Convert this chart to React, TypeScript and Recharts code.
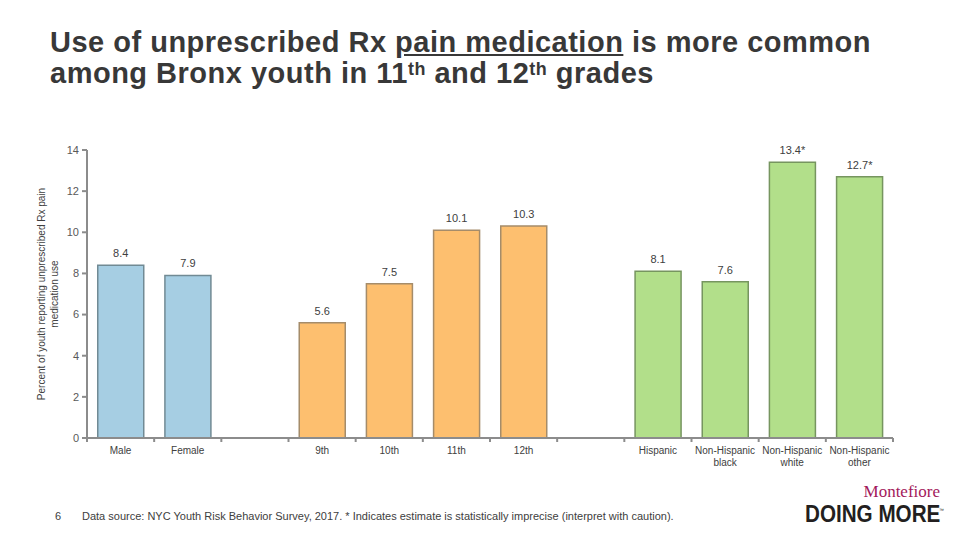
import React from 'react';
import { BarChart, Bar, XAxis, YAxis, Cell, LabelList, Label } from 'recharts';

// categories with two blank spacer slots between the groups
const categories = ['Male', 'Female', '', '9th', '10th', '11th', '12th', '', 'Hispanic', 'Non-Hispanic black', 'Non-Hispanic white', 'Non-Hispanic other'];
const percents = [8.4, 7.9, null, 5.6, 7.5, 10.1, 10.3, null, 8.1, 7.6, 13.4, 12.7];
const imprecise = [false, false, false, false, false, false, false, false, false, false, true, true];
const groups = ['sex', 'sex', '', 'grade', 'grade', 'grade', 'grade', '', 'race', 'race', 'race', 'race'];
const yTicks = [0, 2, 4, 6, 8, 10, 12, 14];

const fills: Record<string, string> = { sex: '#a6cee3', grade: '#fdbf6f', race: '#b2df8a' };
const strokes: Record<string, string> = { sex: '#718a94', grade: '#a58c6a', race: '#76955f' };

const data = categories.map((name, i) => ({
  name,
  value: percents[i],
  valueLabel: percents[i] == null ? '' : percents[i]!.toFixed(1) + (imprecise[i] ? '*' : ''),
  group: groups[i],
}));

const W = 960;
const H = 540;
const PLOT_LEFT = 87;
const PLOT_RIGHT = 67;
const Y_AXIS_W = 40;
const SLOT = (W - PLOT_LEFT - PLOT_RIGHT) / categories.length;
const AXIS = '#8c8c8c';
const FONT = '"Liberation Sans", Arial, sans-serif';

const XTick = (props: any) => {
  const { x, y, payload, index } = props;
  const text: string = payload.value || '';
  const words = text.startsWith('Non-Hispanic') ? ['Non-Hispanic', text.slice(13)] : text ? [text] : [];
  return (
    <g>
      <line x1={x - SLOT / 2} x2={x - SLOT / 2} y1={y} y2={y + 4} stroke={AXIS} strokeWidth={2} />
      {index === categories.length - 1 && (
        <line x1={x + SLOT / 2} x2={x + SLOT / 2} y1={y} y2={y + 4} stroke={AXIS} strokeWidth={2} />
      )}
      {words.map((w, i) => (
        <text key={i} x={x} y={y + 16 + i * 12} textAnchor="middle" fontSize={10} fill="#404040" fontFamily={FONT}>
          {w}
        </text>
      ))}
    </g>
  );
};

const YAxisTitle = (props: any) => {
  const vb = props.viewBox || {};
  const cy = (vb.y || 150) + (vb.height || 288) / 2;
  return (
    <g transform={`translate(41, ${cy}) rotate(-90)`}>
      <text x={0} y={0} textAnchor="middle" dominantBaseline="central" fontSize={10} fill="#404040" fontFamily={FONT}>
        Percent of youth reporting unprescribed Rx pain
      </text>
      <text x={0} y={13} textAnchor="middle" dominantBaseline="central" fontSize={10} fill="#404040" fontFamily={FONT}>
        medication use
      </text>
    </g>
  );
};

const sup: React.CSSProperties = { fontSize: '62%', verticalAlign: '0.42em', lineHeight: 0 };

export default function App() {
  return (
    <div style={{ position: 'absolute', left: 0, top: 0, width: W, height: H, background: '#fff', fontFamily: FONT }}>
      <div
        style={{
          position: 'absolute',
          left: 50,
          top: 27,
          fontSize: 29,
          lineHeight: '31px',
          letterSpacing: 0.5,
          fontWeight: 'bold',
          color: '#383838',
          whiteSpace: 'nowrap',
        }}
      >
        <div>
          Use of unprescribed Rx <span style={{ textDecoration: 'underline' }}>pain medication</span> is more common
        </div>
        <div>
          among Bronx youth in 11<span style={sup}>th</span> and 12<span style={sup}>th</span> grades
        </div>
      </div>

      <BarChart
        width={W}
        height={H}
        data={data}
        margin={{ top: 150, right: PLOT_RIGHT, bottom: 72, left: PLOT_LEFT - Y_AXIS_W }}
        barCategoryGap="16%"
        style={{ position: 'absolute', left: 0, top: 0 }}
      >
        <XAxis
          dataKey="name"
          height={30}
          tickLine={false}
          tickSize={0}
          tickMargin={0}
          interval={0}
          axisLine={{ stroke: AXIS, strokeWidth: 2 }}
          tick={<XTick />}
        />
        <YAxis
          width={Y_AXIS_W}
          domain={[0, 14]}
          ticks={yTicks}
          interval={0}
          tickSize={5}
          tickMargin={3}
          axisLine={{ stroke: AXIS, strokeWidth: 2 }}
          tickLine={{ stroke: AXIS, strokeWidth: 2 }}
          tick={{ fontSize: 11, fill: '#595959', fontFamily: FONT }}
        >
          <Label content={<YAxisTitle />} />
        </YAxis>
        <Bar dataKey="value" isAnimationActive={false}>
          {data.map((d, i) => (
            <Cell key={i} fill={fills[d.group] || 'none'} stroke={strokes[d.group] || 'none'} strokeWidth={1.5} />
          ))}
          <LabelList dataKey="valueLabel" position="top" offset={8} fontSize={11} fill="#404040" fontFamily={FONT} />
        </Bar>
      </BarChart>

      <div style={{ position: 'absolute', left: 55, top: 510, fontSize: 11, color: '#404040' }}>6</div>
      <div style={{ position: 'absolute', left: 82, top: 510, fontSize: 11, color: '#404040', whiteSpace: 'nowrap' }}>
        Data source: NYC Youth Risk Behavior Survey, 2017. * Indicates estimate is statistically imprecise (interpret with caution).
      </div>

      <div
        style={{
          position: 'absolute',
          right: 20,
          top: 484,
          fontFamily: '"Liberation Serif", "DejaVu Serif", serif',
          fontSize: 17,
          color: '#a3195b',
          lineHeight: '16px',
        }}
      >
        Montefiore
      </div>
      <div
        style={{
          position: 'absolute',
          left: 805,
          top: 504,
          fontSize: 24,
          fontWeight: 'bold',
          color: '#231f20',
          lineHeight: '20px',
          whiteSpace: 'nowrap',
          transform: 'scaleX(0.86)',
          transformOrigin: 'left top',
        }}
      >
        DOING MORE
      </div>
      <div style={{ position: 'absolute', left: 939, top: 508, fontSize: 5, color: '#231f20', lineHeight: '5px' }}>™</div>
    </div>
  );
}
